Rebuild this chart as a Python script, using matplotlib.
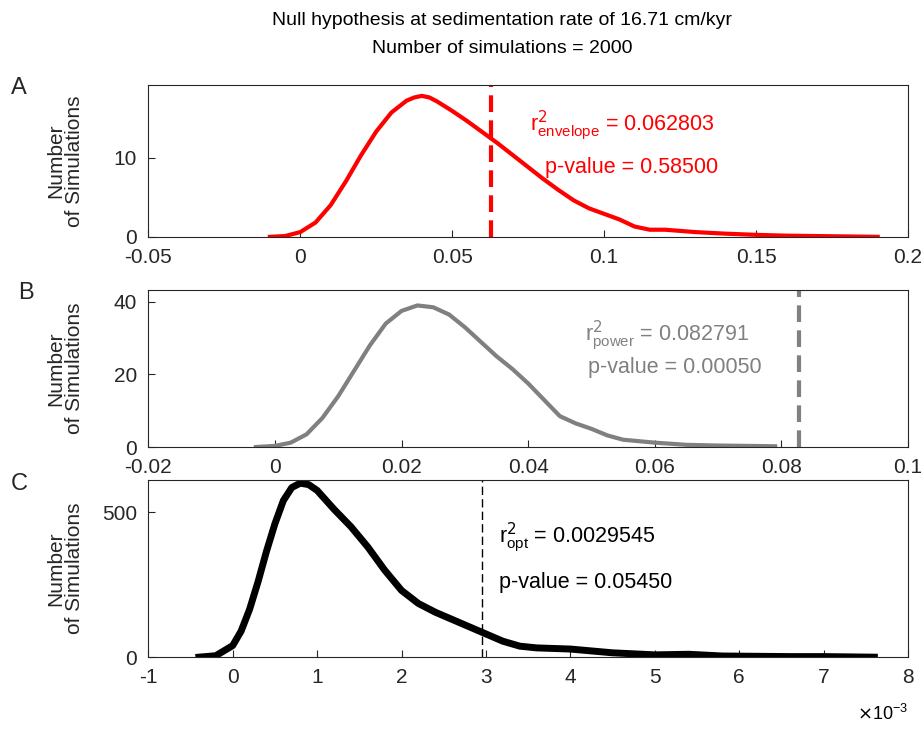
import matplotlib
matplotlib.use("Agg")
import matplotlib.pyplot as plt

plt.rcParams['font.family'] = ['Liberation Sans', 'DejaVu Sans']
plt.rcParams['xtick.direction'] = 'in'
plt.rcParams['ytick.direction'] = 'in'
plt.rcParams['axes.unicode_minus'] = False

# Panel A: envelope r^2
a_x = [-0.01, -0.005, 0.0, 0.005, 0.01, 0.015, 0.02, 0.025, 0.03, 0.035, 0.0375, 0.04, 0.0425, 0.045, 0.05, 0.055,
       0.06, 0.065, 0.07, 0.075, 0.08, 0.085, 0.09, 0.095, 0.1, 0.105, 0.11, 0.115, 0.12, 0.13, 0.14, 0.15,
       0.16, 0.17, 0.18, 0.19]
a_y = [0.0, 0.1, 0.6, 1.8, 4.0, 7.0, 10.3, 13.3, 15.7, 17.2, 17.6, 17.8, 17.6, 17.1, 15.9, 14.6,
       13.2, 11.8, 10.3, 8.8, 7.3, 5.9, 4.6, 3.6, 2.9, 2.2, 1.3, 0.9, 0.9, 0.6, 0.4, 0.25,
       0.15, 0.1, 0.05, 0.0]
a_obs = 0.062803

# Panel B: power r^2
b_x = [-0.003, 0.0, 0.0025, 0.005, 0.0075, 0.01, 0.0125, 0.015, 0.0175, 0.02, 0.0225, 0.025, 0.0275, 0.03, 0.0325,
       0.035, 0.0375, 0.04, 0.0425, 0.045, 0.0475, 0.05, 0.0525, 0.055, 0.0575, 0.06, 0.065, 0.07, 0.075, 0.079]
b_y = [0.0, 0.3, 1.2, 3.5, 8.0, 14.0, 21.0, 28.0, 34.0, 37.5, 39.0, 38.5, 36.5, 33.0, 29.0,
       25.0, 21.5, 17.5, 13.0, 8.5, 6.5, 5.0, 3.2, 2.0, 1.6, 1.2, 0.6, 0.4, 0.3, 0.2]
b_obs = 0.082791

# Panel C: optimal r^2 (x in units of 1e-3)
c_x = [-0.4, -0.2, 0.0, 0.1, 0.2, 0.3, 0.4, 0.5, 0.6, 0.7, 0.8, 0.9, 1.0, 1.2, 1.4, 1.6, 1.8, 2.0, 2.2, 2.4,
       2.6, 2.8, 3.0, 3.2, 3.4, 3.6, 3.8, 4.0, 4.5, 5.0, 5.4, 5.8, 6.2, 6.6, 7.0, 7.6]
c_y = [0, 5, 40, 90, 165, 260, 365, 460, 540, 585, 600, 595, 575, 510, 450, 380, 300, 230, 185, 155,
       130, 105, 80, 55, 38, 32, 30, 28, 15, 8, 10, 4, 3, 2, 2, 0]
c_obs = 2.9545

fig = plt.figure(figsize=(9.21, 7.31), dpi=100)
fig.text(0.545, 0.983, 'Null hypothesis at sedimentation rate of 16.71 cm/kyr', ha='center', va='top', fontsize=14)
fig.text(0.545, 0.945, 'Number of simulations = 2000', ha='center', va='top', fontsize=14)

axA = fig.add_axes([0.161, 0.676, 0.825, 0.208])
axB = fig.add_axes([0.161, 0.3885, 0.825, 0.215])
axC = fig.add_axes([0.161, 0.101, 0.825, 0.242])

axA.plot(a_x, a_y, color='red', lw=3)
axA.plot([a_obs, a_obs], [0, 19.2], color='red', lw=3, ls=(0, (4, 2)))
axA.set_xlim(-0.05, 0.2)
axA.set_ylim(0, 19.2)
axA.set_xticks([-0.05, 0, 0.05, 0.1, 0.15, 0.2])
axA.set_xticklabels(['-0.05', '0', '0.05', '0.1', '0.15', '0.2'])
axA.set_yticks([0, 10])
axA.text(0.0757, 14.1, r'r$^2_{\mathregular{envelope}}$ = 0.062803', color='red', fontsize=15.5, va='center')
axA.text(0.0806, 8.7, 'p-value = 0.58500', color='red', fontsize=15.5, va='center')

gray = '#808080'
axB.plot(b_x, b_y, color=gray, lw=3)
axB.plot([b_obs, b_obs], [0, 43.3], color=gray, lw=3, ls=(0, (4, 2)))
axB.set_xlim(-0.02, 0.1)
axB.set_ylim(0, 43.3)
axB.set_xticks([-0.02, 0, 0.02, 0.04, 0.06, 0.08, 0.1])
axB.set_xticklabels(['-0.02', '0', '0.02', '0.04', '0.06', '0.08', '0.1'])
axB.set_yticks([0, 20, 40])
axB.text(0.049, 30.9, r'r$^2_{\mathregular{power}}$ = 0.082791', color=gray, fontsize=15.5, va='center')
axB.text(0.0495, 21.8, 'p-value = 0.00050', color=gray, fontsize=15.5, va='center')

axC.plot(c_x, c_y, color='black', lw=5)
axC.plot([c_obs, c_obs], [0, 610], color='black', lw=1, ls=(0, (6, 3)))
axC.set_xlim(-1, 8)
axC.set_ylim(0, 610)
axC.set_xticks(range(-1, 9))
axC.set_yticks([0, 500])
axC.text(3.15, 413, r'r$^2_{\mathregular{opt}}$ = 0.0029545', color='black', fontsize=15.5, va='center')
axC.text(3.15, 258, 'p-value = 0.05450', color='black', fontsize=15.5, va='center')
axC.text(8.0, -160, r'$\times\mathregular{10^{-3}}$', ha='right', va='top', fontsize=13)

for ax, lab in zip([axA, axB, axC], ['A', 'B', 'C']):
    ax.tick_params(labelsize=15, length=5, pad=8, color='#262626', labelcolor='#262626')
    ax.tick_params(top=False, right=False)
    for s in ax.spines.values():
        s.set_color('#262626')
    ax.set_ylabel('Number\nof Simulations', fontsize=15, color='#262626', linespacing=0.95)
    ax.yaxis.set_label_coords(-0.085, 0.5)
    bb = ax.get_position()
    fig.text(0.012 if lab != 'B' else 0.02, bb.y1 - 0.005, lab, fontsize=17, va='center', color='#262626')

fig.savefig('out.png', dpi=100)
